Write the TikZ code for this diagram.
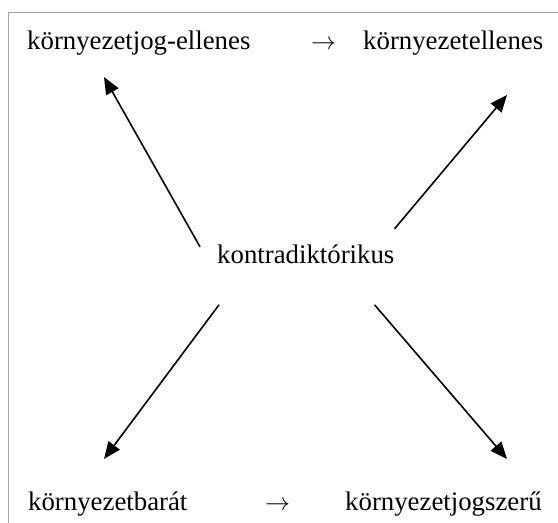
\documentclass[tikz,border=0pt]{standalone}
\usepackage{fontspec}
\setmainfont{Liberation Serif}
\usetikzlibrary{arrows.meta, positioning, calc}

\begin{document}
\begin{tikzpicture}[
        x=1pt, y=-1pt,
        term/.style={inner sep=0pt, anchor=base west, font=\fontsize{26.8}{30}\selectfont},
        frame/.style={gray!70, line width=1pt},
        arr/.style={line width=1.6pt, -{Triangle[length=17pt, width=14pt]}}
    ]
        \useasboundingbox (0,0) rectangle (558,523);

        % keret
        \draw[frame] (8,523) -- (8,12) -- (558,12);

        \node[term] (jogell) at (27,49) {környezetjog-ellenes};
        \node[term] (toparr) at (311,49) {$\rightarrow$};
        \node[term] (kornyell) at (363,49) {környezetellenes};
        \node[term] (kontra) at (217,263) {kontradiktórikus};
        \node[term] (barat) at (28,510) {környezetbarát};
        \node[term] (botarr) at (265,510) {$\rightarrow$};
        \node[term] (jogszeru) at (345,510) {környezetjogszerű};

        \coordinate (tlA) at ($(kontra.west)+(-17,-7)$);
        \coordinate (trA) at ($(kontra.east)+(0,-25)$);
        \coordinate (blA) at ($(kontra.west)+(2,51)$);
        \coordinate (brA) at ($(kontra.east)+(-20,51)$);
        \coordinate (tlB) at (104,77);
        \coordinate (trB) at (507,95);
        \coordinate (blB) at (104,459);
        \coordinate (brB) at (507,459);

        \draw[arr] (tlA) -- (tlB);
        \draw[arr] (trA) -- (trB);
        \draw[arr] (blA) -- (blB);
        \draw[arr] (brA) -- (brB);
    \end{tikzpicture}
\end{document}
